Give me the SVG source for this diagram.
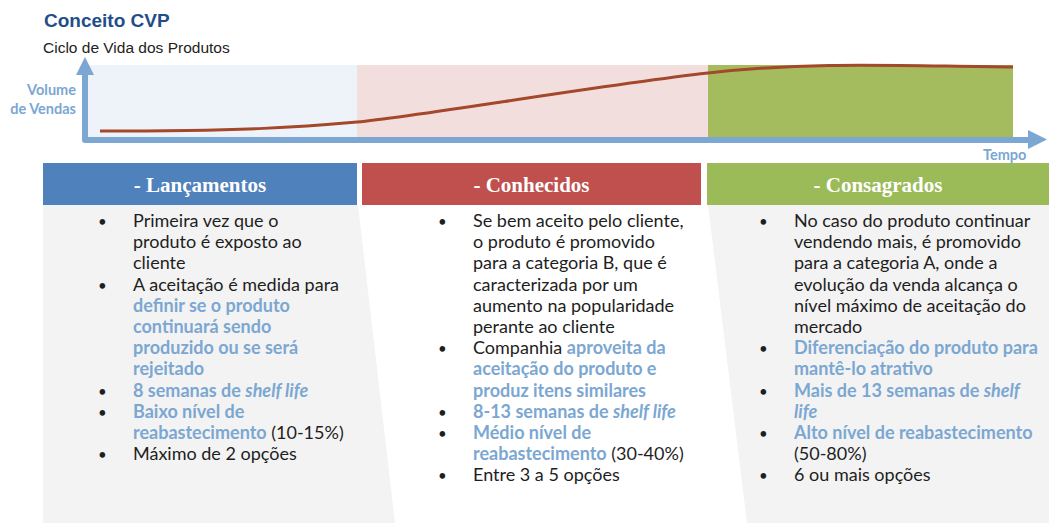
<svg xmlns="http://www.w3.org/2000/svg" width="1049" height="523" viewBox="0 0 1049 523">
<defs>
<style>
.title{font-family:"Liberation Sans",Arial,sans-serif;font-weight:bold;font-size:19px;fill:#1f4e89}
.sub{font-family:"Liberation Sans",Arial,sans-serif;font-size:15.5px;fill:#222}
.axlab{font-family:Lato,"Open Sans",sans-serif;font-weight:bold;font-size:14.5px;fill:#7ba7d2}
.hdr{font-family:"Liberation Serif","Times New Roman",serif;font-weight:bold;font-size:21px;fill:#fff;text-anchor:middle}
.body{font-family:Lato,"Open Sans",sans-serif;font-size:18px;fill:#1e1e1e}
.b{font-size:15px}
.hl{fill:#7ba7d2;font-weight:bold}
.it{font-style:italic}
.axis{stroke:#7ba7d2;stroke-width:6;fill:none;stroke-linejoin:round}
.ah{fill:#7ba7d2}
</style>
</defs>
<rect width="1049" height="523" fill="#fff"/>
<g id="title">
<text class="title" x="44" y="27">Conceito CVP</text>
<text class="sub" x="43" y="53">Ciclo de Vida dos Produtos</text>
</g>
<g id="chart">
<rect x="88" y="65" width="269" height="73" fill="#eef3fa"/>
<rect x="357" y="65" width="351" height="73" fill="#f3dede"/>
<rect x="708" y="65" width="305" height="73" fill="#a5bc5e"/>
<path d="M100,131 C250,131 300,127 357,122 S600,85 708,73 S900,66 1013,67" fill="none" stroke="#a3482a" stroke-width="3"/>
<text class="axlab" x="76" y="95" text-anchor="end">Volume</text>
<text class="axlab" x="76" y="114" text-anchor="end">de Vendas</text>
<text class="axlab" x="983" y="160">Tempo</text>
</g>
<g id="connectors">
<path class="axis" d="M85,74 V140 H1030"/>
<polygon class="ah" points="76,75 94,75 85,57"/>
<polygon class="ah" points="1028,130 1028,149 1047,139.5"/>
</g>
<g id="lancamentos">
<polygon points="43,205 358,205 395,523 43,523" fill="#f3f3f3"/>
<rect x="43" y="163" width="314" height="42" fill="#4f81bd"/>
<text class="hdr" x="200" y="192">- Lançamentos</text>
<text class="body">
<tspan x="98" y="227" class="b">•</tspan><tspan x="133" y="227">Primeira vez que o</tspan>
<tspan x="133" y="248.2">produto é exposto ao</tspan>
<tspan x="133" y="269.4">cliente</tspan>
<tspan x="98" y="290.6" class="b">•</tspan><tspan x="133" y="290.6">A aceitação é medida para</tspan>
<tspan x="133" y="311.8" class="hl">definir se o produto</tspan>
<tspan x="133" y="333" class="hl">continuará sendo</tspan>
<tspan x="133" y="354.2" class="hl">produzido ou se será</tspan>
<tspan x="133" y="375.4" class="hl">rejeitado</tspan>
<tspan x="98" y="396.6" class="b">•</tspan><tspan x="133" y="396.6" class="hl">8 semanas de <tspan class="it">shelf life</tspan></tspan>
<tspan x="98" y="417.8" class="b">•</tspan><tspan x="133" y="417.8" class="hl">Baixo nível de</tspan>
<tspan x="133" y="439" class="hl">reabastecimento</tspan><tspan> (10-15%)</tspan>
<tspan x="98" y="460.2" class="b">•</tspan><tspan x="133" y="460.2">Máximo de 2 opções</tspan>
</text>
</g>
<g id="conhecidos">
<rect x="362" y="163" width="339" height="42" fill="#c0504d"/>
<text class="hdr" x="531.5" y="192">- Conhecidos</text>
<text class="body">
<tspan x="438" y="227" class="b">•</tspan><tspan x="473" y="227">Se bem aceito pelo cliente,</tspan>
<tspan x="473" y="248.2">o produto é promovido</tspan>
<tspan x="473" y="269.4">para a categoria B, que é</tspan>
<tspan x="473" y="290.6">caracterizada por um</tspan>
<tspan x="473" y="311.8">aumento na popularidade</tspan>
<tspan x="473" y="333">perante ao cliente</tspan>
<tspan x="438" y="354.2" class="b">•</tspan><tspan x="473" y="354.2">Companhia </tspan><tspan class="hl">aproveita da</tspan>
<tspan x="473" y="375.4" class="hl">aceitação do produto e</tspan>
<tspan x="473" y="396.6" class="hl">produz itens similares</tspan>
<tspan x="438" y="417.8" class="b">•</tspan><tspan x="473" y="417.8" class="hl">8-13 semanas de <tspan class="it">shelf life</tspan></tspan>
<tspan x="438" y="439" class="b">•</tspan><tspan x="473" y="439" class="hl">Médio nível de</tspan>
<tspan x="473" y="460.2" class="hl">reabastecimento</tspan><tspan> (30-40%)</tspan>
<tspan x="438" y="481.4" class="b">•</tspan><tspan x="473" y="481.4">Entre 3 a 5 opções</tspan>
</text>
</g>
<g id="consagrados">
<polygon points="708,205 1049,205 1049,523 747,523" fill="#f3f3f3"/>
<rect x="707" y="163" width="342" height="42" fill="#9bbb59"/>
<text class="hdr" x="878" y="192">- Consagrados</text>
<text class="body">
<tspan x="759" y="227" class="b">•</tspan><tspan x="794" y="227">No caso do produto continuar</tspan>
<tspan x="794" y="248.2">vendendo mais, é promovido</tspan>
<tspan x="794" y="269.4">para a categoria A, onde a</tspan>
<tspan x="794" y="290.6">evolução da venda alcança o</tspan>
<tspan x="794" y="311.8">nível máximo de aceitação do</tspan>
<tspan x="794" y="333">mercado</tspan>
<tspan x="759" y="354.2" class="b">•</tspan><tspan x="794" y="354.2" class="hl">Diferenciação do produto para</tspan>
<tspan x="794" y="375.4" class="hl">mantê-lo atrativo</tspan>
<tspan x="759" y="396.6" class="b">•</tspan><tspan x="794" y="396.6" class="hl">Mais de 13 semanas de <tspan class="it">shelf</tspan></tspan>
<tspan x="794" y="417.8" class="hl it">life</tspan>
<tspan x="759" y="439" class="b">•</tspan><tspan x="794" y="439" class="hl">Alto nível de reabastecimento</tspan>
<tspan x="794" y="460.2">(50-80%)</tspan>
<tspan x="759" y="481.4" class="b">•</tspan><tspan x="794" y="481.4">6 ou mais opções</tspan>
</text>
</g>
</svg>
